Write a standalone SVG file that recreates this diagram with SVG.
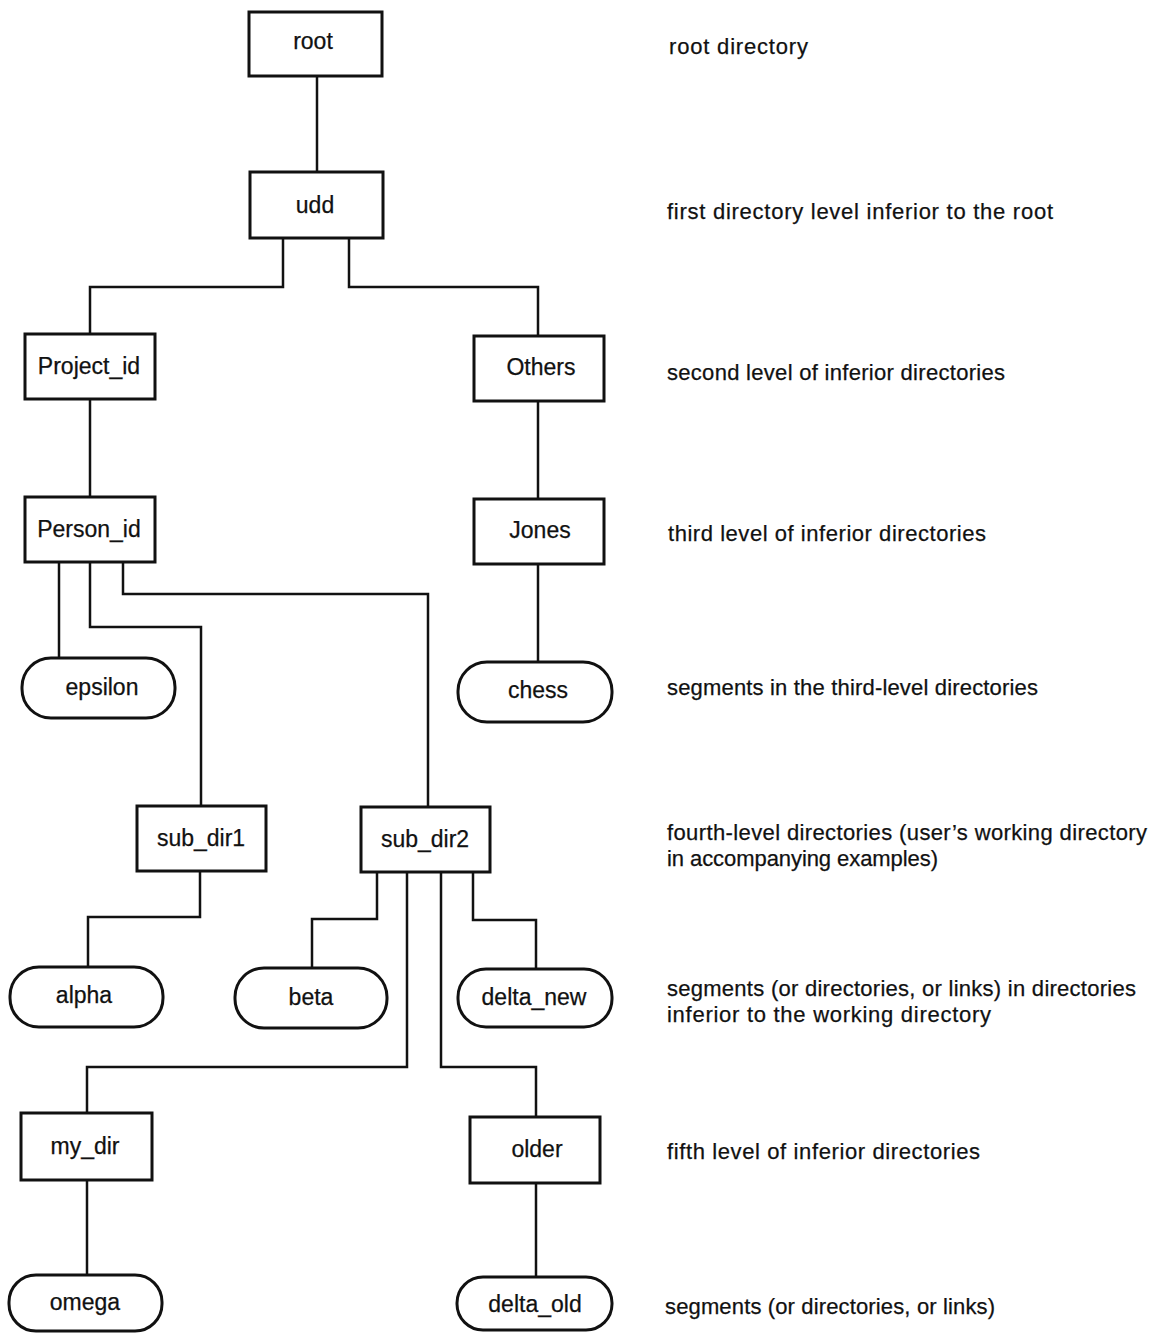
<svg xmlns="http://www.w3.org/2000/svg" width="1161" height="1333" viewBox="0 0 1161 1333">
<style>
.box{fill:#fff;stroke:#111;stroke-width:3}
.pill{fill:#fff;stroke:#111;stroke-width:3}
.lbl{font-family:"Liberation Sans",Arial,sans-serif;font-size:23px;fill:#111;stroke:#111;stroke-width:0.25;text-anchor:middle}
.desc{font-family:"Liberation Sans",Arial,sans-serif;font-size:22px;fill:#111;stroke:#111;stroke-width:0.25}
.conn path{fill:none;stroke:#111;stroke-width:2.5}
</style>
<rect width="1161" height="1333" fill="#fff"/>
<g class="conn" id="connectors">
<path d="M317,76 V172"/>
<path d="M283,238 V287 H90 V334"/>
<path d="M349,238 V287 H538 V336"/>
<path d="M90,399 V497"/>
<path d="M538,401 V499"/>
<path d="M538,564 V662"/>
<path d="M59,562 V658"/>
<path d="M90,562 V627 H201 V806"/>
<path d="M123,562 V594 H428 V807"/>
<path d="M200,871 V917 H88 V967"/>
<path d="M377,872 V919 H312 V968"/>
<path d="M473,872 V920 H536 V969"/>
<path d="M407,872 V1067 H87 V1113"/>
<path d="M441,872 V1067 H536 V1117"/>
<path d="M87,1180 V1275"/>
<path d="M536,1183 V1277"/>
</g>
<g id="root"><rect class="box" x="249" y="12" width="133" height="64"/><text class="lbl" x="313" y="49">root</text></g>
<g id="udd"><rect class="box" x="250" y="172" width="133" height="66"/><text class="lbl" x="315" y="213">udd</text></g>
<g id="project_id"><rect class="box" x="25" y="334" width="130" height="65"/><text class="lbl" x="89" y="374">Project_id</text></g>
<g id="others"><rect class="box" x="474" y="336" width="130" height="65"/><text class="lbl" x="541" y="375">Others</text></g>
<g id="person_id"><rect class="box" x="25" y="497" width="130" height="65"/><text class="lbl" x="89" y="537">Person_id</text></g>
<g id="jones"><rect class="box" x="474" y="499" width="130" height="65"/><text class="lbl" x="540" y="538">Jones</text></g>
<g id="epsilon"><rect class="pill" x="22" y="658" width="153" height="60" rx="29" ry="29"/><text class="lbl" x="102" y="695">epsilon</text></g>
<g id="chess"><rect class="pill" x="458" y="662" width="154" height="60" rx="29" ry="29"/><text class="lbl" x="538" y="698">chess</text></g>
<g id="sub_dir1"><rect class="box" x="137" y="806" width="129" height="65"/><text class="lbl" x="201" y="846">sub_dir1</text></g>
<g id="sub_dir2"><rect class="box" x="361" y="807" width="129" height="65"/><text class="lbl" x="425" y="847">sub_dir2</text></g>
<g id="alpha"><rect class="pill" x="10" y="967" width="153" height="60" rx="29" ry="29"/><text class="lbl" x="84" y="1003">alpha</text></g>
<g id="beta"><rect class="pill" x="235" y="968" width="152" height="60" rx="29" ry="29"/><text class="lbl" x="311" y="1005">beta</text></g>
<g id="delta_new"><rect class="pill" x="458" y="969" width="154" height="58" rx="28" ry="28"/><text class="lbl" x="534" y="1005">delta_new</text></g>
<g id="my_dir"><rect class="box" x="21" y="1113" width="131" height="67"/><text class="lbl" x="85" y="1154">my_dir</text></g>
<g id="older"><rect class="box" x="470" y="1117" width="130" height="66"/><text class="lbl" x="537" y="1157">older</text></g>
<g id="omega"><rect class="pill" x="9" y="1275" width="153" height="56" rx="27" ry="27"/><text class="lbl" x="85" y="1310">omega</text></g>
<g id="delta_old"><rect class="pill" x="457" y="1277" width="155" height="53" rx="26" ry="26"/><text class="lbl" x="535" y="1312">delta_old</text></g>
<g id="descriptions">
<text class="desc" x="669" y="54" textLength="139" lengthAdjust="spacing">root directory</text>
<text class="desc" x="667" y="219" textLength="386" lengthAdjust="spacing">first directory level inferior to the root</text>
<text class="desc" x="667" y="380" textLength="338" lengthAdjust="spacing">second level of inferior directories</text>
<text class="desc" x="668" y="541" textLength="318" lengthAdjust="spacing">third level of inferior directories</text>
<text class="desc" x="667" y="695" textLength="371" lengthAdjust="spacing">segments in the third-level directories</text>
<text class="desc" x="667" y="840" textLength="480" lengthAdjust="spacing">fourth-level directories (user’s working directory</text>
<text class="desc" x="667" y="866" textLength="271" lengthAdjust="spacing">in accompanying examples)</text>
<text class="desc" x="667" y="996" textLength="469" lengthAdjust="spacing">segments (or directories, or links) in directories</text>
<text class="desc" x="667" y="1022" textLength="324" lengthAdjust="spacing">inferior to the working directory</text>
<text class="desc" x="667" y="1159" textLength="313" lengthAdjust="spacing">fifth level of inferior directories</text>
<text class="desc" x="665" y="1314" textLength="330" lengthAdjust="spacing">segments (or directories, or links)</text>
</g>
</svg>
